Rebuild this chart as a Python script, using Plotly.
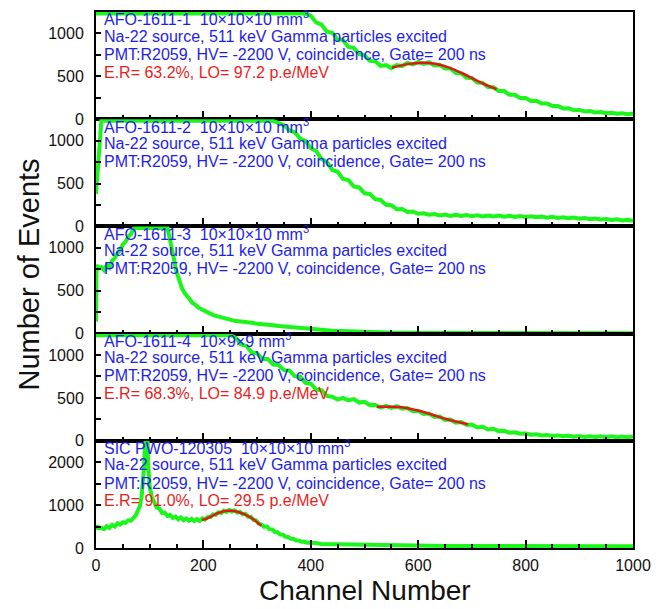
import numpy as np
import plotly.graph_objects as go
from plotly.subplots import make_subplots

# ---------------- data ----------------
CH_GRID = list(range(0, 1001, 10))

# AFO-1611-1
counts_1 = [1500, 1650, 1800, 1900, 1950, 1980, 2000, 1990, 1970, 1950,
            1920, 1890, 1860, 1830, 1800, 1770, 1740, 1710, 1680, 1650,
            1620, 1590, 1560, 1530, 1500, 1470, 1445, 1420, 1400, 1380,
            1360, 1350, 1340, 1330, 1320, 1310, 1300, 1290, 1262, 1232,
            1205, 1128, 1102, 1020, 1008, 930, 922, 842, 832, 760,
            745, 680, 676, 622, 630, 596, 632, 620, 656, 638,
            668, 646, 664, 628, 634, 590, 592, 538, 536, 482,
            480, 428, 424, 374, 372, 330, 328, 285, 284, 246,
            247, 213, 214, 182, 184, 153, 153, 126, 128, 104,
            108, 90, 94, 78, 83, 69, 75, 63, 70, 59, 66]
fit_ch_1 = [551, 565, 580, 595, 610, 625, 640, 655, 670, 685, 700, 715, 730, 746]
fit_1 = [600, 622, 642, 653, 657, 652, 636, 608, 570, 527, 480, 432, 390, 350]

# AFO-1611-2
counts_2 = [380, 1480, 1650, 1780, 1850, 1900, 1920, 1930, 1920, 1900,
            1880, 1860, 1840, 1820, 1800, 1780, 1760, 1740, 1720, 1700,
            1680, 1655, 1630, 1600, 1570, 1540, 1510, 1480, 1450, 1415,
            1380, 1345, 1305, 1262, 1206, 1178, 1120, 1098, 1024, 998,
            912, 880, 785, 750, 658, 636, 553, 540, 466, 454,
            386, 378, 318, 308, 252, 248, 200, 202, 168, 174,
            147, 153, 136, 145, 128, 138, 123, 135, 122, 132,
            119, 130, 117, 128, 115, 126, 114, 123, 111, 121,
            109, 118, 106, 115, 102, 112, 99, 107, 94, 103,
            90, 98, 85, 92, 80, 87, 75, 82, 70, 77, 67]

# AFO-1611-3
ch_3 = [0, 1, 5, 10, 15, 20, 25, 30, 35, 40, 45, 50, 55, 60, 65, 70, 75, 80,
        90, 100, 110, 120, 128, 133, 137, 141, 145, 150, 155, 160, 165, 170,
        175, 180, 185, 190, 195, 200, 210, 220, 230, 240, 250, 260, 270, 280,
        290, 300, 310, 320, 330, 340, 350, 360, 370, 380, 390, 400, 420, 440,
        460, 480, 500, 520, 540, 560, 580, 600, 650, 700, 750, 800, 850, 900,
        950, 1000]
counts_3 = [140, 800, 760, 775, 740, 800, 770, 850, 880, 940, 970, 1040, 1070,
            1130, 1160, 1225, 1260, 1320, 1400, 1450, 1460, 1420, 1340, 1250,
            1120, 980, 860, 720, 625, 528, 472, 425, 398, 355, 338, 305, 292,
            270, 242, 212, 196, 172, 162, 146, 141, 128, 126, 115, 112, 101,
            98, 88, 84, 74, 72, 62, 60, 52, 44, 34, 29, 22, 19, 15, 14, 11,
            11, 9, 8, 7, 6, 6, 5, 5, 5, 4]

# AFO-1611-4
counts_4 = [1600, 1900, 2100, 2200, 2250, 2260, 2240, 2200, 2150, 2100,
            2040, 1980, 1920, 1860, 1800, 1740, 1680, 1620, 1560, 1500,
            1450, 1400, 1360, 1320, 1280, 1240, 1204, 1124, 1106, 1030,
            1020, 954, 954, 890, 884, 824, 820, 754, 748, 676,
            666, 596, 590, 524, 514, 480, 500, 472, 486, 446,
            455, 416, 418, 388, 408, 384, 404, 374, 382, 346,
            350, 312, 318, 278, 282, 244, 248, 210, 218, 184,
            190, 156, 164, 132, 140, 112, 118, 94, 100, 82,
            86, 70, 76, 62, 68, 56, 63, 52, 59, 48,
            56, 46, 54, 44, 53, 43, 52, 43, 51, 42, 50]
fit_ch_4 = [523, 535, 550, 565, 580, 595, 610, 625, 640, 655, 670, 685, 693]
fit_4 = [396, 398, 398, 393, 380, 360, 336, 306, 276, 248, 224, 204, 194]

# SIC PWO-120305
ch_5 = [0, 3, 6, 10, 15, 20, 25, 30, 35, 40, 45, 50, 55, 60, 65, 70, 74, 78,
        82, 85, 88, 90, 91, 92, 94, 95, 96, 97, 100, 104, 108, 113, 118, 123,
        128, 133, 138, 143, 148, 153, 158, 163, 168, 173, 178, 183, 188, 193,
        198, 203, 208, 213, 218, 223, 228, 233, 238, 243, 248, 253, 258, 263,
        268, 273, 278, 283, 288, 293, 298, 303, 308, 313, 318, 323, 328, 333,
        338, 343, 348, 353, 358, 363, 368, 373, 378, 383, 388, 393, 398, 405,
        412, 420, 430, 442, 455, 470, 485, 500, 520, 540, 560, 580, 600, 650,
        700, 750, 800, 850, 900, 950, 1000]
counts_5 = [430, 520, 460, 470, 440, 510, 470, 540, 500, 575, 545, 600, 585,
            645, 640, 720, 760, 870, 990, 1200, 1580, 1970, 2400, 2850, 3100,
            2900, 2500, 1970, 1430, 1190, 1090, 945, 920, 815, 825, 745, 770,
            700, 735, 670, 715, 650, 690, 635, 680, 630, 672, 632, 690, 664,
            728, 718, 785, 772, 835, 815, 870, 840, 890, 850, 880, 825, 845,
            785, 800, 730, 728, 655, 645, 565, 548, 495, 505, 440, 432, 375,
            368, 315, 312, 262, 258, 215, 210, 174, 175, 145, 146, 124, 128,
            108, 110, 95, 93, 82, 81, 70, 69, 60, 61, 54, 55, 49, 52, 46, 48,
            43, 46, 41, 44, 39, 42]
fit_ch_5 = [197, 205, 213, 221, 229, 237, 245, 253, 261, 269, 277, 285, 293, 300, 308]
fit_5 = [652, 680, 728, 780, 822, 852, 868, 868, 852, 822, 782, 730, 672, 600, 520]

Y_TOPS = [1250, 1250, 1250, 1250, 2500]
Y_DTICK = [500, 500, 500, 500, 1000]
Y_MINOR = [250, 250, 250, 250, 500]

SAMPLES = ["AFO-1611-1", "AFO-1611-2", "AFO-1611-3", "AFO-1611-4", "SIC PWO-120305"]
SIZES = ["10×10×10", "10×10×10", "10×10×10", "10×9×9", "10×10×10"]
SOURCE_LINE = "Na-22 source, 511 keV Gamma particles excited"
PMT_LINE = "PMT:R2059, HV= -2200 V, coincidence, Gate= 200 ns"
RESULTS = ["E.R= 63.2%, LO= 97.2 p.e/MeV", None, None,
           "E.R= 68.3%, LO= 84.9 p.e/MeV", "E.R= 91.0%, LO= 29.5 p.e/MeV"]

spectra = [(CH_GRID, counts_1), (CH_GRID, counts_2), (ch_3, counts_3),
           (CH_GRID, counts_4), (ch_5, counts_5)]
fits = [(fit_ch_1, fit_1), None, None, (fit_ch_4, fit_4), (fit_ch_5, fit_5)]

# ---------------- styling ----------------
GREEN = "#1af51a"
RED_FIT = "#e01818"
BLUE_TXT = "rgb(30,30,235)"
RED_TXT = "rgb(235,30,30)"
FONT = "Arial, Liberation Sans, sans-serif"

fig = make_subplots(rows=5, cols=1, shared_xaxes=True, vertical_spacing=0)

for i, ((ch, cnt), fit) in enumerate(zip(spectra, fits)):
    row = i + 1
    top = Y_TOPS[i]
    # counts above the axis limit are drawn along the top of the frame
    y_draw = np.minimum(np.asarray(cnt, dtype=float), top * 0.985)
    fig.add_trace(go.Scatter(x=ch, y=y_draw, mode="lines",
                             line=dict(color=GREEN, width=4),
                             showlegend=False, hoverinfo="skip"),
                  row=row, col=1)
    if fit is not None:
        fig.add_trace(go.Scatter(x=fit[0], y=fit[1], mode="lines",
                                 line=dict(color=RED_FIT, width=2.5, shape="spline"),
                                 showlegend=False, hoverinfo="skip"),
                      row=row, col=1)

    fig.update_yaxes(range=[0, top], dtick=Y_DTICK[i], tick0=0,
                     ticks="inside", ticklen=5, tickwidth=1.5, tickcolor="black",
                     minor=dict(dtick=Y_MINOR[i], tick0=0, ticks="inside",
                                ticklen=5, tickwidth=1.5, tickcolor="black"),
                     showline=True, linewidth=2, linecolor="black", mirror=True,
                     showgrid=False, zeroline=False,
                     tickfont=dict(family=FONT, size=16, color="#111"),
                     ticklabelstandoff=7,
                     row=row, col=1)

    # text block in each panel
    sfx = "" if row == 1 else str(row)
    xr = "x%s domain" % sfx
    yr = "y%s domain" % sfx
    lines = [(SAMPLES[i] + "\u00a0 " + SIZES[i] + " mm<sup>3</sup>", BLUE_TXT),
             (SOURCE_LINE, BLUE_TXT),
             (PMT_LINE, BLUE_TXT)]
    if RESULTS[i]:
        lines.append((RESULTS[i], RED_TXT))
    ys = [0.94, 0.775, 0.605, 0.44]
    for (txt, col), yy in zip(lines, ys):
        fig.add_annotation(xref=xr, yref=yr, x=0.012, y=yy, text=txt,
                           showarrow=False, xanchor="left", yanchor="middle",
                           font=dict(family=FONT, size=16, color=col))

fig.update_xaxes(range=[0, 1000], dtick=200, tick0=0,
                 ticks="inside", ticklen=8, tickwidth=1.5, tickcolor="black",
                 minor=dict(dtick=50, tick0=0, ticks="inside", ticklen=4,
                            tickwidth=1.5, tickcolor="black"),
                 showline=True, linewidth=2, linecolor="black", mirror=True,
                 showgrid=False, zeroline=False, showticklabels=False,
                 tickfont=dict(family=FONT, size=16, color="#111"))
fig.update_xaxes(showticklabels=True, ticklabelstandoff=2, row=5, col=1)

# axis titles
fig.add_annotation(xref="paper", yref="paper", x=0.5, y=-0.0785,
                   text="Channel Number", showarrow=False,
                   xanchor="center", yanchor="middle",
                   font=dict(family=FONT, size=28, color="#111"))
fig.add_annotation(xref="paper", yref="paper", x=-0.125, y=0.51,
                   text="Number of Events", showarrow=False, textangle=-90,
                   xanchor="center", yanchor="middle",
                   font=dict(family=FONT, size=29, color="#111"))

fig.update_layout(width=670, height=609,
                  margin=dict(l=96, r=37, t=10, b=61),
                  paper_bgcolor="white", plot_bgcolor="white",
                  showlegend=False)

fig.write_html("out.html")
